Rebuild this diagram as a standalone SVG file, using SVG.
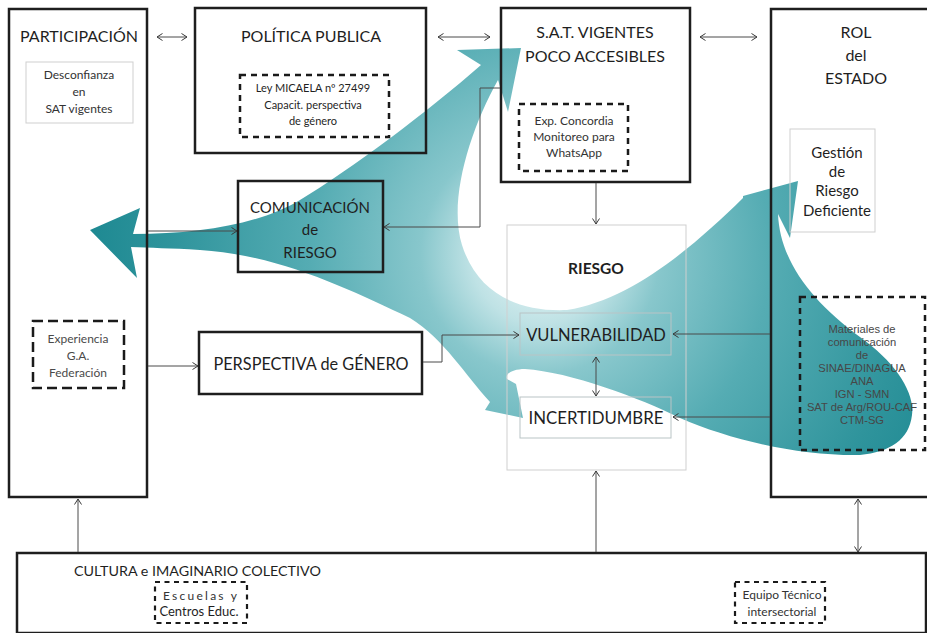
<svg xmlns="http://www.w3.org/2000/svg" width="927" height="633" viewBox="0 0 927 633">
  <defs>
    <radialGradient id="swirlFill" gradientUnits="userSpaceOnUse" cx="540" cy="255" r="460">
      <stop offset="0" stop-color="#eef8f9"/>
      <stop offset="0.15" stop-color="#bfe2e5"/>
      <stop offset="0.26" stop-color="#88c7cc"/>
      <stop offset="0.5" stop-color="#55acb3"/>
      <stop offset="0.8" stop-color="#2f949c"/>
      <stop offset="1" stop-color="#1c8891"/>
    </radialGradient>
    <marker id="arr" viewBox="0 0 7 8" refX="6" refY="4" markerWidth="7" markerHeight="8" markerUnits="userSpaceOnUse" orient="auto-start-reverse">
      <path d="M0.5,0.5 L6,4 L0.5,7.5" fill="none" stroke="#3a3a3a" stroke-width="1"/>
    </marker>
    <style>
      .box { fill: none; stroke: #1e1e1e; stroke-width: 2.5; }
      .thin { fill: none; stroke: #cfcfcf; stroke-width: 1; }
      .thin2 { fill: none; stroke: #b9c4c5; stroke-width: 1; }
      .dots { fill: none; stroke: #1a1a1a; stroke-width: 2.5; stroke-dasharray: 6 5; }
      .dash { fill: none; stroke: #1a1a1a; stroke-width: 2.5; stroke-dasharray: 10 5; }
      .dots-s { fill: none; stroke: #1a1a1a; stroke-width: 2.2; stroke-dasharray: 5 4.5; }
      .t { font-family: Lato, "Liberation Sans", sans-serif; fill: #1f1f1f; text-anchor: middle; }
      .title { font-size: 16px; }
      .small { font-size: 12px; fill: #333333; }
      .grey { font-size: 12px; fill: #4a4a4a; }
      .mat { font-family: "Liberation Sans", Arial, sans-serif; font-size: 11.2px; fill: #474747; text-anchor: middle; }
      .link { fill: none; stroke: #4a4a4a; stroke-width: 1; }
    </style>
  </defs>

  <rect width="927" height="633" fill="#ffffff"/>

  <!-- large swirl band with four arrowheads and a tail -->
  <g id="flow-shape">
    <path fill="url(#swirlFill)" d="
      M90,230 L140,208 L133,234
      C200,234 260,224 300,200
      C350,170 430,110 481,65
      L457,50 L521,48 L508,112 L498,80
      C470,130 448,200 462,245
      C478,295 520,312 567,310
      C630,300 690,250 743,198
      L743,196 L798,181 L790,238 L778,214
      C780,260 810,300 860,337
      C895,362 915,392 912,415
      C909,440 890,452 860,455
      C800,456 730,440 680,418
      C640,398 570,372 525,369
      C512,369 505,374 507,379
      L516,384 L523,418 L485,410 L490,402
      C465,375 445,340 410,318
      C350,290 280,255 200,250
      C170,248 150,248 131,247
      L137,278 Z"/>
  </g>

  <!-- PARTICIPACIÓN -->
  <g id="participacion">
    <rect class="box" x="9" y="9" width="138" height="488"/>
    <text class="t title" x="79" y="42">PARTICIPACIÓN</text>
  </g>
  <g id="desconfianza">
    <rect class="thin" x="26" y="62" width="107" height="61"/>
    <text class="t small" x="79" y="79">Desconfianza</text>
    <text class="t small" x="79" y="96">en</text>
    <text class="t small" x="79" y="113">SAT vigentes</text>
  </g>
  <g id="experiencia">
    <rect class="dash" x="33" y="321" width="91" height="67"/>
    <text class="t grey" x="78" y="343">Experiencia</text>
    <text class="t grey" x="78" y="360">G.A.</text>
    <text class="t grey" x="78" y="377">Federación</text>
  </g>

  <!-- POLÍTICA PUBLICA -->
  <g id="politica">
    <rect class="box" x="195" y="8" width="231" height="145"/>
    <text class="t title" x="311" y="42">POLÍTICA PUBLICA</text>
  </g>
  <g id="ley-micaela">
    <rect class="dots" x="240" y="75" width="149" height="62"/>
    <text class="t" font-size="11" x="313" y="92" fill="#333333">Ley MICAELA nº 27499</text>
    <text class="t" font-size="11" x="313" y="109" fill="#333333">Capacit. perspectiva</text>
    <text class="t" font-size="11" x="313" y="125" fill="#333333">de género</text>
  </g>

  <!-- S.A.T. VIGENTES POCO ACCESIBLES -->
  <g id="sat">
    <rect class="box" x="501" y="8" width="189" height="174"/>
    <text class="t title" x="595" y="38">S.A.T. VIGENTES</text>
    <text class="t title" x="595" y="62">POCO ACCESIBLES</text>
  </g>
  <g id="exp-concordia">
    <rect class="dots" x="519" y="104" width="109" height="67"/>
    <text class="t small" x="574" y="125">Exp. Concordia</text>
    <text class="t small" x="574" y="141">Monitoreo para</text>
    <text class="t small" x="574" y="157">WhatsApp</text>
  </g>

  <!-- ROL del ESTADO -->
  <g id="rol-estado">
    <rect class="box" x="771" y="9" width="170" height="488"/>
    <text class="t title" x="856" y="38">ROL</text>
    <text class="t title" x="856" y="61">del</text>
    <text class="t title" x="856" y="84">ESTADO</text>
  </g>
  <g id="gestion">
    <rect class="thin" x="790" y="129" width="85" height="103"/>
    <text class="t" font-size="15" x="837" y="158">Gestión</text>
    <text class="t" font-size="15" x="837" y="177">de</text>
    <text class="t" font-size="15" x="837" y="196">Riesgo</text>
    <text class="t" font-size="15" x="837" y="216">Deficiente</text>
  </g>
  <g id="materiales">
    <rect class="dots" x="800" y="297" width="125" height="153"/>
    <text class="mat" x="862" y="333">Materiales de</text>
    <text class="mat" x="862" y="346">comunicación</text>
    <text class="mat" x="862" y="359">de</text>
    <text class="mat" x="862" y="372">SINAE/DINAGUA</text>
    <text class="mat" x="862" y="385">ANA</text>
    <text class="mat" x="862" y="398">IGN - SMN</text>
    <text class="mat" x="862" y="411">SAT de Arg/ROU-CAF</text>
    <text class="mat" x="862" y="424">CTM-SG</text>
  </g>

  <!-- COMUNICACIÓN de RIESGO -->
  <g id="comunicacion">
    <rect class="box" x="238" y="181" width="145" height="91"/>
    <text class="t" font-size="15" x="310" y="213">COMUNICACIÓN</text>
    <text class="t" font-size="15" x="310" y="235">de</text>
    <text class="t" font-size="15" x="310" y="258">RIESGO</text>
  </g>

  <!-- PERSPECTIVA de GÉNERO -->
  <g id="perspectiva">
    <rect class="box" x="199" y="332" width="223" height="62"/>
    <text class="t" font-size="16.3" x="311" y="370">PERSPECTIVA de GÉNERO</text>
  </g>

  <!-- RIESGO -->
  <g id="riesgo">
    <rect class="thin" x="507" y="225" width="179" height="245" stroke="#d6d6d6"/>
    <text class="t" font-size="15.5" font-weight="bold" x="596" y="274">RIESGO</text>
  </g>
  <g id="vulnerabilidad">
    <rect class="thin2" x="520" y="313" width="151" height="42"/>
    <text class="t" font-size="16.5" x="596" y="341">VULNERABILIDAD</text>
  </g>
  <g id="incertidumbre">
    <rect class="thin2" x="520" y="397" width="151" height="41"/>
    <text class="t" font-size="16.8" x="596" y="424">INCERTIDUMBRE</text>
  </g>

  <!-- CULTURA e IMAGINARIO COLECTIVO -->
  <g id="cultura">
    <rect class="box" x="17" y="553" width="909" height="80"/>
    <text class="t" font-size="14.3" x="74" y="576" style="text-anchor:start">CULTURA e IMAGINARIO COLECTIVO</text>
  </g>
  <g id="escuelas">
    <rect class="dots-s" x="155" y="582" width="92" height="41"/>
    <text class="t small" x="163" y="600" style="text-anchor:start" textLength="74" lengthAdjust="spacing">Escuelas y</text>
    <text class="t" font-size="13" x="199" y="616" fill="#333333">Centros Educ.</text>
  </g>
  <g id="equipo">
    <rect class="dots-s" x="735" y="582" width="90" height="41"/>
    <text class="t small" x="782" y="599">Equipo Técnico</text>
    <text class="t small" x="782" y="616">intersectorial</text>
  </g>

  <!-- connectors -->
  <g id="connectors">
    <line class="link" x1="157" y1="37" x2="187" y2="37" marker-start="url(#arr)" marker-end="url(#arr)"/>
    <line class="link" x1="438" y1="37" x2="490" y2="37" marker-start="url(#arr)" marker-end="url(#arr)"/>
    <line class="link" x1="700" y1="37" x2="757" y2="37" marker-start="url(#arr)" marker-end="url(#arr)"/>
    <line class="link" x1="148" y1="231" x2="237" y2="231" marker-end="url(#arr)"/>
    <path class="link" d="M500,88 H480 V227 H384" marker-end="url(#arr)"/>
    <line class="link" x1="596" y1="183" x2="596" y2="224" marker-end="url(#arr)"/>
    <line class="link" x1="148" y1="366" x2="198" y2="366" marker-end="url(#arr)"/>
    <path class="link" d="M423,362 H442 V335 H519" marker-end="url(#arr)"/>
    <line class="link" x1="596" y1="357" x2="596" y2="396" marker-start="url(#arr)" marker-end="url(#arr)"/>
    <line class="link" x1="770" y1="334" x2="673" y2="334" marker-end="url(#arr)"/>
    <line class="link" x1="770" y1="417" x2="673" y2="417" marker-end="url(#arr)"/>
    <line class="link" x1="78" y1="552" x2="78" y2="499" marker-end="url(#arr)"/>
    <line class="link" x1="596" y1="552" x2="596" y2="471" marker-end="url(#arr)"/>
    <line class="link" x1="858" y1="499" x2="858" y2="552" marker-start="url(#arr)" marker-end="url(#arr)"/>
  </g>
</svg>
